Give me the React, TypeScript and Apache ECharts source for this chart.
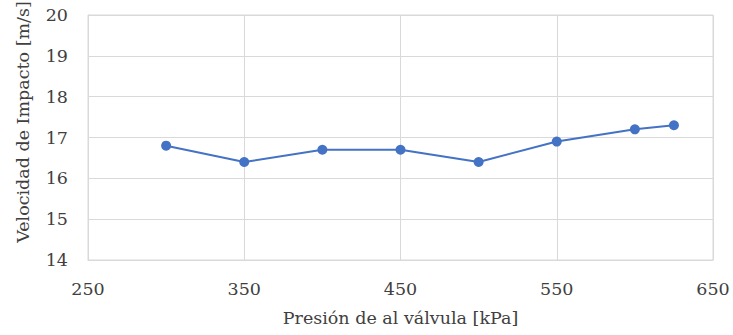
import React, { useEffect, useRef } from "react";
import * as echarts from "echarts";

const pressures = [300, 350, 400, 450, 500, 550, 600, 625];
const velocities = [16.8, 16.4, 16.7, 16.7, 16.4, 16.9, 17.2, 17.3];
const xTitle = "Presión de al válvula [kPa]";
const yTitle = "Velocidad de Impacto [m/s]";

const FONT = "DejaVu Serif";
const FS = 17.5;
const TEXT = "#404040";
const GRID = "#d9d9d9";

export default function App() {
  const ref = useRef<HTMLDivElement>(null);
  useEffect(() => {
    if (!ref.current) return;
    const chart = echarts.init(ref.current, undefined, { renderer: "svg" });
    chart.setOption({
      animation: false,
      backgroundColor: "#ffffff",
      textStyle: { fontFamily: FONT },
      grid: { left: 88, right: 20, top: 15, bottom: 75, show: true, borderColor: GRID, borderWidth: 1 },
      graphic: [
        {
          type: "text",
          x: 23,
          y: 122,
          rotation: Math.PI / 2,
          style: {
            text: yTitle,
            fontFamily: FONT,
            fontSize: FS,
            fill: TEXT,
            textAlign: "center",
            textVerticalAlign: "middle",
          },
        },
      ],
      xAxis: {
        type: "value",
        min: 250,
        max: 650,
        interval: 100,
        name: xTitle,
        nameLocation: "middle",
        nameGap: 49,
        nameTextStyle: { fontFamily: FONT, fontSize: FS, color: TEXT },
        axisLine: { show: true, lineStyle: { color: GRID } },
        axisTick: { show: false },
        axisLabel: { fontFamily: FONT, fontSize: FS, color: TEXT, margin: 20 },
        splitLine: { show: true, lineStyle: { color: GRID, width: 1 } },
      },
      yAxis: {
        type: "value",
        min: 14,
        max: 20,
        interval: 1,
        axisLine: { show: true, lineStyle: { color: GRID } },
        axisTick: { show: false },
        axisLabel: { fontFamily: FONT, fontSize: FS, color: TEXT, margin: 20 },
        splitLine: { show: true, lineStyle: { color: GRID, width: 1 } },
      },
      series: [
        {
          type: "line",
          data: pressures.map((p, i) => [p, velocities[i]]),
          symbol: "circle",
          symbolSize: 10,
          itemStyle: { color: "#4472C4" },
          lineStyle: { color: "#4472C4", width: 2 },
        },
      ],
    });
    return () => chart.dispose();
  }, []);
  return (
    <div
      ref={ref}
      style={{ position: "fixed", left: 0, top: 0, width: 733, height: 335, background: "#fff" }}
    />
  );
}
